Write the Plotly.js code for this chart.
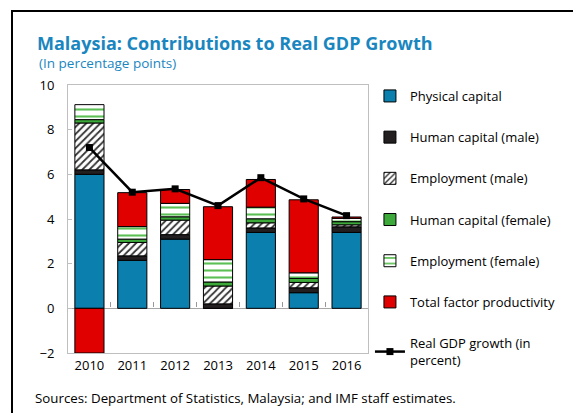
<!DOCTYPE html>
<html>
<head>
<meta charset="utf-8">
<script src="https://cdn.plot.ly/plotly-3.0.1.min.js"></script>
<style>
html,body{margin:0;padding:0;background:#fff;}
#wrap{position:relative;width:573px;height:413px;}
#chart{width:573px;height:413px;}
#frame{position:absolute;left:11px;top:10px;right:-5px;bottom:-5px;border-top:2px solid #000;border-left:2px solid #000;pointer-events:none;}
</style>
</head>
<body>
<div id="wrap"><div id="chart"></div><div id="frame"></div></div>
<script>
const years = ['2010','2011','2012','2013','2014','2015','2016'];
const physicalCapital = [6.0, 2.15, 3.1, 0.0, 3.4, 0.7, 3.4];
const humanCapitalMale = [0.2, 0.2, 0.2, 0.2, 0.2, 0.22, 0.25];
const employmentMale = [2.1, 0.6, 0.65, 0.8, 0.23, 0.24, 0.09];
const humanCapitalFemale = [0.15, 0.15, 0.15, 0.18, 0.18, 0.18, 0.14];
const employmentFemale = [0.67, 0.56, 0.6, 1.0, 0.52, 0.25, 0.15];
const tfp = [-2.0, 1.52, 0.62, 2.37, 1.24, 3.27, 0.06];
const gdpGrowth = [7.2, 5.2, 5.35, 4.6, 5.85, 4.9, 4.15];
const yTicks = [-2, 0, 2, 4, 6, 8, 10];

const FONT = 'Open Sans, Noto Sans, sans-serif';
const outline = {color:'#000', width:1};
function bar(name, y, color, pattern){
  const m = {color: color, line: outline};
  if (pattern) m.pattern = pattern;
  return {type:'bar', name:name, x:years, y:y, marker:m, legendgroup:name, hoverinfo:'y'};
}
const traces = [
  bar('Physical capital', physicalCapital, '#0b7fae'),
  bar('Human capital (male)', humanCapitalMale, '#231f20'),
  bar('Employment (male)', employmentMale, '#ffffff', {shape:'/', fgcolor:'#333333', bgcolor:'#ffffff', size:5, solidity:0.35}),
  bar('Human capital (female)', humanCapitalFemale, '#3ca93a'),
  bar('Employment (female)', employmentFemale, '#ffffff', {shape:'-', fgcolor:'#5cbf55', bgcolor:'#ffffff', size:7, solidity:0.3}),
  bar('Total factor productivity', tfp, '#e00000'),
  {type:'scatter', mode:'lines+markers', name:'Real GDP growth (in<br>percent)', x:years, y:gdpGrowth,
   xaxis:'x2', yaxis:'y',
   line:{color:'#000', width:2.5}, marker:{symbol:'square', size:7, color:'#000'}, legendgroup:'gdp'}
];

const layout = {
  width:573, height:413,
  margin:{l:68, r:195, t:85, b:60},
  paper_bgcolor:'#fff', plot_bgcolor:'#fff',
  barmode:'relative', bargap:0.32,
  font:{family:FONT, size:13, color:'#000'},
  title:{text:'<b>Malaysia: Contributions to Real GDP Growth</b>', x:37/573, xanchor:'left', xref:'container',
         y:1-44/413, yanchor:'middle', yref:'container', font:{family:FONT, size:18, color:'#1a86bf'}},
  xaxis:{type:'category', categoryarray:years, showline:true, linecolor:'#bfbfbf', mirror:true, ticks:'', showgrid:false,
         tickfont:{size:13}, zeroline:false},
  xaxis2:{type:'category', categoryarray:years, matches:'x', overlaying:'x', anchor:'free', position:46/268, side:'bottom',
          showline:false, showgrid:false, zeroline:false, showticklabels:false,
          ticks:'inside', tickson:'boundaries', ticklen:5, tickcolor:'#999999', tickwidth:1},
  yaxis:{range:[-2,10], tickvals:yTicks, showline:true, linecolor:'#bfbfbf', mirror:true, ticks:'inside',
         ticklen:4, tickcolor:'#bfbfbf', showgrid:false, zeroline:true, zerolinecolor:'#a6a6a6', zerolinewidth:1,
         tickfont:{size:13}, ticklabelstandoff:10},
  showlegend:true,
  legend:{x:1.0065, xanchor:'left', y:1.015, yanchor:'top', traceorder:'grouped', tracegroupgap:21.3,
          font:{size:13}, itemwidth:30, bgcolor:'rgba(0,0,0,0)', maxheight:400},
  annotations:[
    {text:'(In percentage points)', xref:'paper', yref:'paper', x:(36-68)/310, y:(353-63)/268,
     xanchor:'left', yanchor:'middle', showarrow:false, font:{size:13.5, color:'#1a86bf'}},
    {text:'Sources: Department of Statistics, Malaysia; and IMF staff estimates.', xref:'paper', yref:'paper',
     x:(32-68)/310, y:(353-398)/268, xanchor:'left', yanchor:'middle', showarrow:false, font:{size:13.3, color:'#000'}}
  ]
};
Plotly.newPlot('chart', traces, layout, {displayModeBar:false, staticPlot:true});
</script>
</body>
</html>
